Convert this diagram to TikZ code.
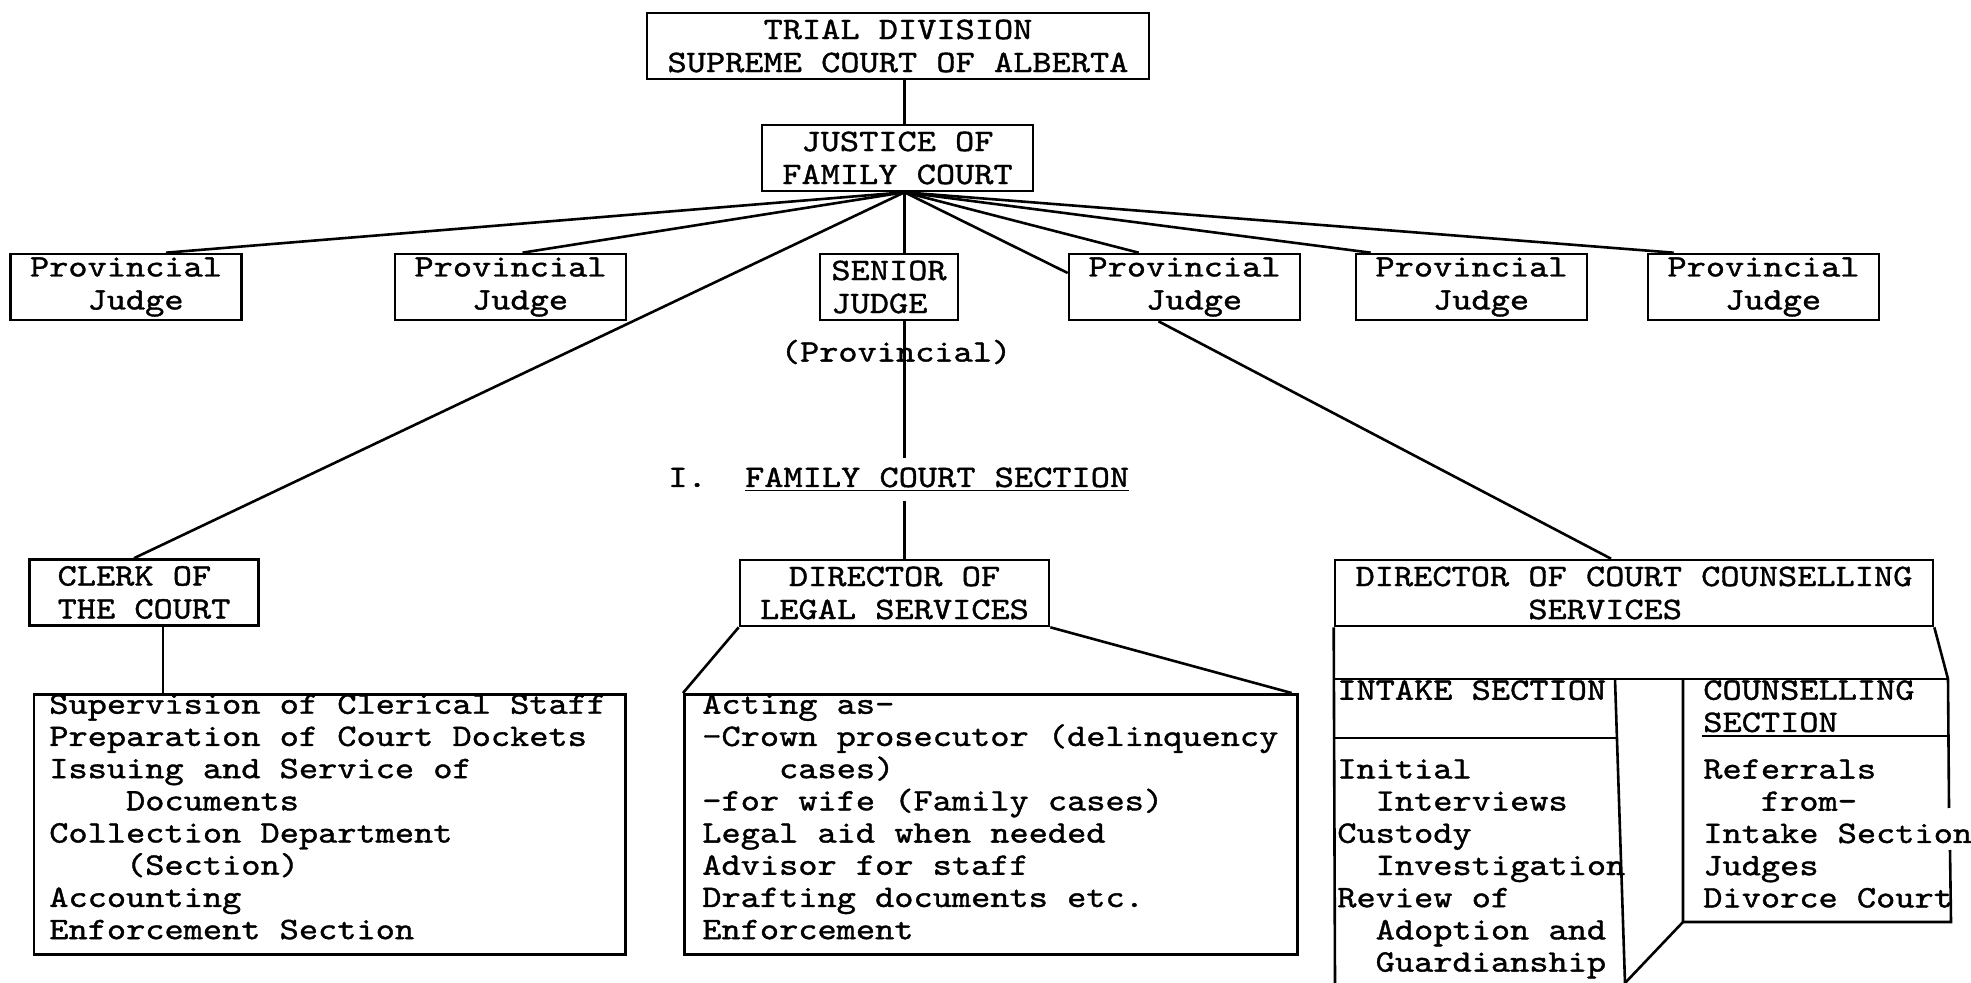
\documentclass[tikz,border=0pt]{standalone}
\usepackage{fontspec}
\newfontfamily\typefont{lmmono10-regular.otf}[FakeStretch=1.17,FakeBold=1.2]
\usetikzlibrary{positioning,calc}
\newcommand{\ind}[1]{\hspace*{#1\fontcharwd\font`M}}
\tikzset{
typed/.style={font=\typefont\fontsize{15.63}{16.5}\selectfont},
office/.style={typed, draw, line width=1.3pt, inner sep=0pt, minimum height=33pt},
judge/.style={office, minimum width=115.5pt, align=left},
duty list/.style={font=\typefont\fontsize{15.63}{16.1}\selectfont, draw, line width=1.3pt, anchor=north west, inner ysep=0pt},
plain list/.style={font=\typefont\fontsize{15.63}{16.1}\selectfont, anchor=north west, inner sep=0pt, align=left},
link/.style={line width=1.3pt},
}

\begin{document}
\begin{tikzpicture}[x=0.5pt,y=-0.5pt,link]
\useasboundingbox (0,0) rectangle (1971,983);

% court above
\node[office, minimum width=251pt, align=center] (trial) at (898,46) {TRIAL DIVISION\\SUPREME COURT OF ALBERTA};
\node[office, minimum width=135.5pt, align=center] (justice) at (897.5,158) {JUSTICE OF\\FAMILY COURT};
\coordinate (hub) at ([xshift=3.5pt]justice.south);
\draw (hub |- trial.south) -- (hub |- justice.north);

% judges
\node[judge] (pj1) at (126,287) {Provincial\\\ind{3}Judge};
\node[judge] (pj2) at (510.5,287) {Provincial\\\ind{3}Judge};
\node[office, minimum width=69pt, align=left] (senior) at (889,287) {SENIOR\\JUDGE};
\node[judge] (pj3) at (1184.5,287) {Provincial\\\ind{3}Judge};
\node[judge] (pj4) at (1471.5,287) {Provincial\\\ind{3}Judge};
\node[judge] (pj5) at (1763.5,287) {Provincial\\\ind{3}Judge};

\draw (hub) -- ([xshift=20pt]pj1.north);
\draw (hub) -- ([xshift=6pt]pj2.north);
\draw (hub) -- (hub |- senior.north);
\draw (hub) -- ([yshift=7pt]pj3.west);
\draw (hub) -- ([xshift=35.5pt]pj3.north west);
\draw (hub) -- ([xshift=8pt]pj4.north west);
\draw (hub) -- ([xshift=13.5pt]pj5.north west);

% family court section
\node[typed] (provlabel) at (896,352) {(Provincial)};
\node[typed, anchor=base west, inner xsep=0pt, inner ysep=4pt] (section) at (667,487) {I.\ \ \underline{FAMILY COURT SECTION}};
\draw (hub |- senior.south) -- (hub |- section.north);

\node[office, minimum width=154.5pt, align=center] (legal) at (894.5,593) {DIRECTOR OF\\LEGAL SERVICES};
\draw (hub |- section.south) -- (hub |- legal.north);

\node[office, minimum width=114.75pt, align=left, inner xsep=9pt] (clerk) at (144,592.5) {CLERK OF\\THE COURT};
\draw (hub) -- ([xshift=-5pt]clerk.north);

\node[office, minimum width=299pt, align=left] (counsel) at (1634,593) {DIRECTOR OF COURT COUNSELLING\\\ind{9}SERVICES};
\draw ([xshift=-13pt]pj3.south) -- ([xshift=-11.5pt]counsel.north);

% duties
\node[duty list, inner xsep=7.75pt] (clerklist) at (32.5,693) {\parbox[t][130pt][t]{280.25pt}{\raggedright
Supervision of Clerical Staff\\ Preparation of Court Dockets\\ Issuing and Service of\\ \ind{4}Documents\\
Collection Department\\ \ind{4}(Section)\\ Accounting\\ Enforcement Section}};
\coordinate (clerkfoot) at ([xshift=9.5pt]clerk.south);
\draw (clerkfoot) -- (clerkfoot |- clerklist.north);

\node[duty list, inner xsep=9pt] (legallist) at (683,693) {\parbox[t][130pt][t]{288.5pt}{\raggedright
Acting as-\\ \mbox{-Crown prosecutor (delinquency}\\ \ind{4}cases)\\ -for wife (Family cases)\\
Legal aid when needed\\ Advisor for staff\\ Drafting documents etc.\\ Enforcement}};
\draw (legal.south west) -- (legallist.north west);
\draw (legal.south east) -- ([xshift=-3.5pt]legallist.north east);

% intake and counselling sections
\coordinate (coTR) at (1948,679);
\node[plain list] (intakehead) at (1336,679) {INTAKE SECTION};
\node[plain list] (intakelist) at (1336,758) {Initial\\\ind{2}Interviews\\Custody\\\ind{2}Investigation\\Review of\\\ind{2}Adoption and\\\ind{2}Guardianship};
\node[plain list] (counselhead) at (1702,679) {COUNSELLING\\SECTION};
\node[plain list] (counsellist) at (1702,758) {Referrals\\\ind{3}from-\\Intake Section\\Judges\\Divorce Court};

\draw (counsel.south west) -- (1335,983);
\draw (counsel.south east) -- (coTR);
\draw (counsel.south west |- coTR) -- (coTR);
\draw (1335,738) -- (1617,738);
\draw (1615,679) -- (1625,983) -- (1683,922) -- (1683,679);
\draw (1683,922) -- (1951,922) -- (1950,850);
\draw (coTR) -- (1949,808);
\draw (1702,736) -- (1949,736);
\end{tikzpicture}
\end{document}
